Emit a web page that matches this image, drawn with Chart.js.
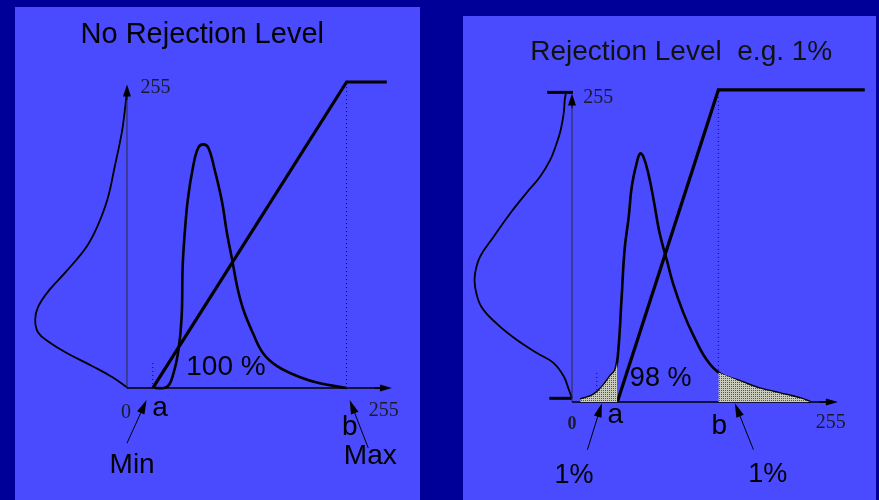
<!DOCTYPE html>
<html>
<head>
<meta charset="utf-8">
<script src="https://cdn.jsdelivr.net/npm/chart.js@4.4.0/dist/chart.umd.min.js"></script>
<style>
  html, body { margin: 0; padding: 0; width: 879px; height: 500px; overflow: hidden; background: #000099; }
  .panel { position: absolute; background: #4a4aff; }
  #p1 { left: 15px; top: 7px; width: 405px; height: 493px; }
  #p2 { left: 463px; top: 16px; width: 413px; height: 484px; }
  canvas { display: block; }
</style>
</head>
<body>
<div class="panel" id="p1"><canvas id="c1" width="405" height="493"></canvas></div>
<div class="panel" id="p2"><canvas id="c2" width="413" height="484"></canvas></div>
<script>
// grey levels: x = input level, y = output level (0..255)

// left panel: no rejection
const leftInX = [27, 39, 45, 50, 53, 54, 56, 59, 64, 69, 74, 79, 85, 92, 97, 102, 107, 113, 122, 132, 146, 168, 187, 213];
const leftInY = [0, 1, 12, 32, 59, 101, 129, 157, 184, 200, 203, 200, 182, 156, 129, 107, 84, 65, 46, 29, 18, 9, 4, 0];
const leftOutX = [1, -14, -33, -58, -75, -86, -89, -86, -75, -58, -39, -29, -19, -12, -5, -2, 0];
const leftOutY = [0, 9, 18, 29, 38, 46, 57, 68, 82, 98, 118, 134, 157, 184, 213, 232, 248];
const leftStretchX = [25, 213, 252];
const leftStretchY = [0, 255, 255];
const leftA = 25, leftB = 213;

// right panel: 1% rejection
const rightInX = [8, 21, 30, 37, 42, 45, 48, 51, 55, 58, 63, 66, 69, 74, 79, 85, 92, 98, 108, 118, 131, 144, 163, 182, 202, 221, 231];
const rightInY = [2, 6, 13, 21, 26, 43, 83, 124, 151, 176, 196, 203, 201, 187, 166, 138, 116, 97, 73, 54, 34, 23, 17, 11, 7, 3, 0];
const lowTailX = [8, 21, 30, 37, 42, 44];
const lowTailY = [2, 6, 13, 21, 26, 33];
const highTailX = [142, 163, 182, 202, 221, 231];
const highTailY = [24, 17, 11, 7, 3, 0];
const rightOutX = [0, -3, -8, -18, -34, -54, -73, -88, -94, -94, -89, -76, -60, -44, -31, -21, -15, -11, -8, -7, -6];
const rightOutY = [3, 10, 21, 32, 40, 51, 64, 78, 94, 105, 119, 135, 154, 171, 184, 198, 211, 222, 236, 247, 252];
const rightFootX = [-22, 0];
const rightFootY = [3, 3];
const rightCapX = [-24, 1];
const rightCapY = [253, 253];
const rightStretchX = [44, 142, 284];
const rightStretchY = [0, 255, 255];
const rightA = 24, rightB = 142;

function pts(xs, ys) {
  return xs.map((x, i) => ({ x: x, y: ys[i] }));
}

function stipple() {
  const c = document.createElement("canvas");
  c.width = 2; c.height = 2;
  const g = c.getContext("2d");
  g.fillStyle = "#c8cabb";
  g.fillRect(0, 0, 2, 2);
  g.fillStyle = "#55564e";
  g.fillRect(0, 0, 1, 1);
  return g.createPattern(c, "repeat");
}

function line(data, width, extra) {
  return Object.assign({
    data: data,
    showLine: true,
    borderColor: "#000",
    borderWidth: width,
    pointRadius: 0,
    tension: 0.4,
    fill: false
  }, extra || {});
}

const overlay = {
  id: "overlay",
  afterDatasetsDraw(chart, args, opts) {
    const ctx = chart.ctx;
    const px = v => chart.scales.x.getPixelForValue(v);
    const py = v => chart.scales.y.getPixelForValue(v);
    ctx.save();
    opts.arrows.forEach(a => {
      const x0 = px(a.from[0]), y0 = py(a.from[1]);
      const x1 = px(a.to[0]), y1 = py(a.to[1]);
      const ang = Math.atan2(y1 - y0, x1 - x0);
      const len = a.head || 11, hw = a.hw || 3.5;
      ctx.strokeStyle = a.color || "#000";
      ctx.lineWidth = a.width || 1;
      ctx.beginPath();
      ctx.moveTo(x0, y0);
      ctx.lineTo(x1 - Math.cos(ang) * len * 0.6, y1 - Math.sin(ang) * len * 0.6);
      ctx.stroke();
      ctx.fillStyle = "#000";
      ctx.beginPath();
      ctx.moveTo(x1, y1);
      ctx.lineTo(x1 - Math.cos(ang) * len + Math.sin(ang) * hw, y1 - Math.sin(ang) * len - Math.cos(ang) * hw);
      ctx.lineTo(x1 - Math.cos(ang) * len - Math.sin(ang) * hw, y1 - Math.sin(ang) * len + Math.cos(ang) * hw);
      ctx.closePath();
      ctx.fill();
    });
    opts.labels.forEach(l => {
      ctx.font = l.font;
      ctx.fillStyle = l.color || "#000";
      ctx.textAlign = l.align || "center";
      ctx.textBaseline = "middle";
      ctx.fillText(l.text, px(l.at[0]), py(l.at[1]));
    });
    ctx.restore();
  }
};

const SANS = "'Liberation Sans', Arial, sans-serif";
const SERIF = "'Liberation Serif', 'Times New Roman', serif";

function makeChart(id, datasets, range, arrows, labels) {
  return new Chart(document.getElementById(id), {
    type: "scatter",
    data: { datasets: datasets },
    options: {
      responsive: false,
      animation: false,
      layout: { padding: 0 },
      scales: {
        x: { type: "linear", display: false, min: range[0], max: range[1] },
        y: { type: "linear", display: false, min: range[2], max: range[3] }
      },
      plugins: {
        legend: { display: false },
        tooltip: { enabled: false },
        overlay: { arrows: arrows, labels: labels }
      }
    },
    plugins: [overlay]
  });
}

const dotted = { borderDash: [1, 3], tension: 0, borderColor: "#111" };

makeChart("c1", [
  line(pts([leftA, leftA], [0, 22]), 1, dotted),
  line(pts([leftB, leftB], [0, 255]), 1, dotted),
  line(pts([0, 0], [0, 250]), 1, { borderColor: "#2a2a3a", tension: 0 }),
  line(pts([0, 250], [0, 0]), 1.5, { tension: 0 }),
  line(pts(leftOutX, leftOutY), 1.8),
  line(pts(leftInX, leftInY), 2.6),
  line(pts(leftStretchX, leftStretchY), 3.2, { tension: 0 })
], [-108.6, 284.2, -93.3, 317.5], [
  { from: [0, 240], to: [0, 253], width: 1, head: 12, hw: 4 },
  { from: [240, 0], to: [257, 0], width: 1.5, head: 12, hw: 3.5 },
  { from: [0, -46], to: [19, -10], width: 1, head: 14, hw: 4 },
  { from: [234, -50], to: [216, -10], width: 1, head: 14, hw: 4 }
], [
  { text: "No Rejection Level", at: [73, 294], font: "29px " + SANS },
  { text: "255", at: [13, 250], font: "20px " + SERIF, align: "left", color: "#1a1a2a" },
  { text: "0", at: [-1, -21], font: "20px " + SERIF, color: "#1a1a2a" },
  { text: "255", at: [249, -19], font: "20px " + SERIF, color: "#1a1a2a" },
  { text: "a", at: [32, -17], font: "28px " + SANS },
  { text: "b", at: [216, -33], font: "28px " + SANS },
  { text: "Min", at: [5, -64], font: "28px " + SANS },
  { text: "Max", at: [236, -57], font: "28px " + SANS },
  { text: "100 %", at: [96, 17], font: "28px " + SANS }
]);

const shade = stipple();

makeChart("c2", [
  line(pts(lowTailX, lowTailY), 0, { fill: "origin", backgroundColor: shade, borderColor: "rgba(0,0,0,0)" }),
  line(pts(highTailX, highTailY), 0, { fill: "origin", backgroundColor: shade, borderColor: "rgba(0,0,0,0)" }),
  line(pts([rightA, rightA], [0, 24]), 1, dotted),
  line(pts([rightB, rightB], [0, 255]), 1, dotted),
  line(pts([0, 0], [0, 250]), 1, { borderColor: "#2a2a3a", tension: 0 }),
  line(pts([0, 250], [0, 0]), 1.5, { tension: 0 }),
  line(pts(rightFootX, rightFootY), 3, { tension: 0 }),
  line(pts(rightCapX, rightCapY), 3, { tension: 0 }),
  line(pts(rightOutX, rightOutY), 1.8),
  line(pts(rightInX, rightInY), 2.6),
  line(pts(rightStretchX, rightStretchY), 3.2, { tension: 0 })
], [-105.7, 294.9, -80.1, 315.4], [
  { from: [0, 240], to: [0, 252], width: 1, head: 12, hw: 4 },
  { from: [240, 0], to: [258, 0], width: 1.5, head: 12, hw: 3.5 },
  { from: [15, -39], to: [29, -1], width: 1, head: 14, hw: 4 },
  { from: [176, -39], to: [158, -1], width: 1, head: 14, hw: 4 }
], [
  { text: "Rejection Level  e.g. 1%", at: [106, 286], font: "28px " + SANS, color: "#111" },
  { text: "255", at: [11, 249], font: "20px " + SERIF, align: "left", color: "#1a1a2a" },
  { text: "0", at: [0, -18], font: "bold 18px " + SERIF, color: "#1a1a2a" },
  { text: "255", at: [251, -17], font: "20px " + SERIF, color: "#1a1a2a" },
  { text: "a", at: [42, -11], font: "28px " + SANS },
  { text: "b", at: [143, -20], font: "28px " + SANS },
  { text: "98 %", at: [86, 19], font: "27px " + SANS },
  { text: "1%", at: [2, -60], font: "27px " + SANS },
  { text: "1%", at: [190, -59], font: "27px " + SANS }
]);
</script>
</body>
</html>
